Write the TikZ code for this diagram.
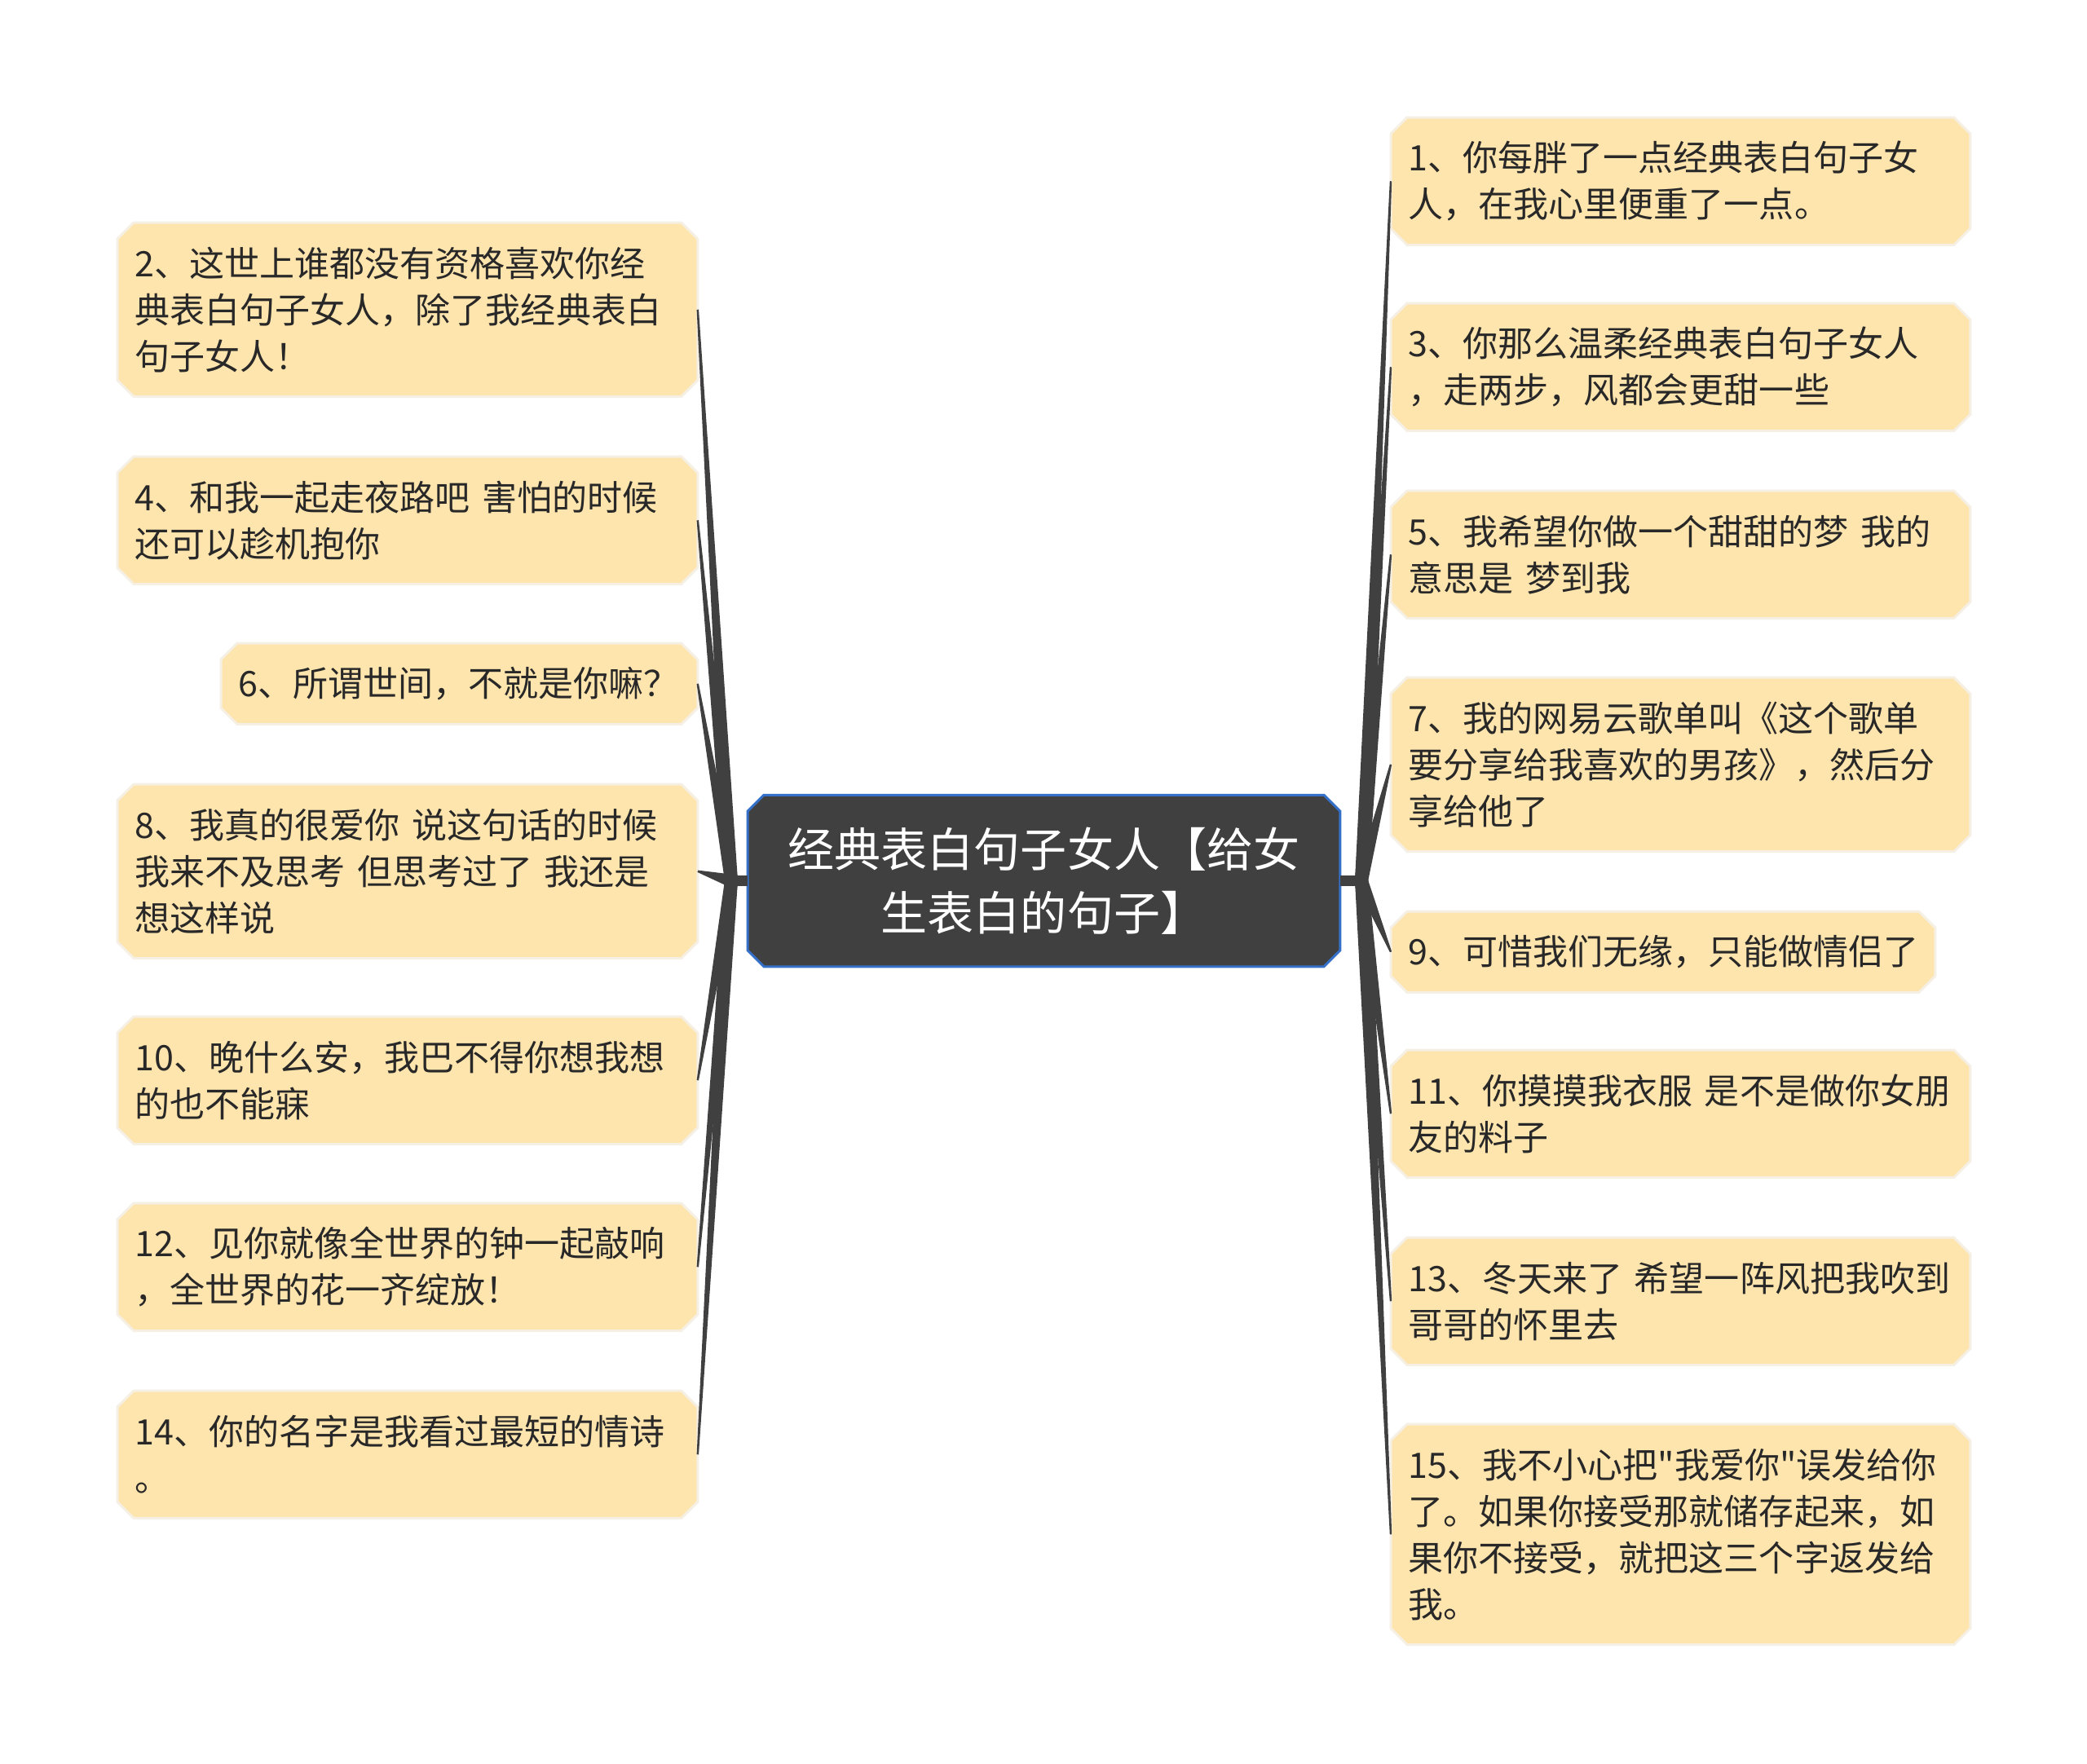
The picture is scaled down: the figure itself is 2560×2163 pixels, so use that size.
\documentclass[tikz,border=0pt]{standalone}
\usepackage{fontspec}
\newfontfamily\cjkfont{Noto Sans CJK SC}
\usetikzlibrary{calc}
\pgfdeclarelayer{back}
\pgfdeclarelayer{bg}
\pgfsetlayers{back,bg,main}
\definecolor{leaffill}{RGB}{254,228,173}
\definecolor{leafline}{RGB}{246,240,228}
\definecolor{rootfill}{RGB}{64,64,64}
\definecolor{rootline}{RGB}{52,112,200}
\definecolor{conncol}{RGB}{64,64,64}
\definecolor{leaftext}{RGB}{40,40,40}
\newcommand\octbox[2]{%
  \path[#2] ([xshift=0.2cm]#1.north west) -- ([xshift=-0.2cm]#1.north east)
    -- ([yshift=-0.2cm]#1.north east) -- ([yshift=0.2cm]#1.south east)
    -- ([xshift=-0.2cm]#1.south east) -- ([xshift=0.2cm]#1.south west)
    -- ([yshift=0.2cm]#1.south west) -- ([yshift=-0.2cm]#1.north west) -- cycle;}
\newcommand\taper[2]{%
  \fill[conncol] ($(#1)!0.08cm!90:(#2)$) -- ($(#2)!0.012cm!-90:(#1)$)
    -- ($(#2)!0.012cm!90:(#1)$) -- ($(#1)!0.08cm!-90:(#2)$) -- cycle;}
\tikzset{
  leaf/.style={anchor=north west, inner xsep=0.21cm, inner ysep=0pt, align=left,
    text=leaftext, font=\cjkfont\fontsize{0.43cm}{0.57cm}\selectfont},
  lw/.style={text width=6.68cm},
  rw/.style={text width=6.67cm},
  h1/.style={minimum height=0.98cm},
  h2/.style={minimum height=1.55cm},
  h3/.style={minimum height=2.12cm},
  h4/.style={minimum height=2.69cm},
  rootnode/.style={minimum width=7.25cm, minimum height=2.09cm, inner sep=0pt,
    align=center, text=white, font=\cjkfont\fontsize{0.57cm}{0.78cm}\selectfont},
  leafshape/.style={fill=leaffill, draw=leafline, line width=0.03cm},
  rootshape/.style={fill=rootfill, draw=rootline, line width=0.03cm},
}
\begin{document}
\begin{tikzpicture}[x=0.01cm, y=-0.01cm]
\begin{pgfonlayer}{back}
\fill[white] (0,0) rectangle (2560,2163);
\end{pgfonlayer}
\useasboundingbox (0,0) rectangle (2560,2163);

\node[rootnode] (c) at (1280.5,1080.5) {经典表白句子女人【给女\\生表白的句子】};

% left leaves
\node[leaf, lw, h3] (n2) at (144,273) {2、这世上谁都没有资格喜欢你经\\典表白句子女人，除了我经典表白\\句子女人！};
\node[leaf, lw, h2] (n4) at (144,560) {4、和我一起走夜路吧~害怕的时候\\还可以趁机抱你};
\node[leaf, text width=5.41cm, h1] (n6) at (271,789) {6、所谓世间，不就是你嘛？};
\node[leaf, lw, h3] (n8) at (144,962) {8、我真的很爱你~说这句话的时候\\我来不及思考~但思考过了~我还是\\想这样说};
\node[leaf, lw, h2] (n10) at (144,1247) {10、晚什么安，我巴不得你想我想\\的也不能寐};
\node[leaf, lw, h2] (n12) at (144,1476) {12、见你就像全世界的钟一起敲响\\，全世界的花一齐绽放！};
\node[leaf, lw, h2] (n14) at (144,1706) {14、你的名字是我看过最短的情诗\\。};

% right leaves
\node[leaf, rw, h2] (n1) at (1706,144) {1、你每胖了一点经典表白句子女\\人，在我心里便重了一点。};
\node[leaf, rw, h2] (n3) at (1706,372) {3、你那么温柔经典表白句子女人\\，走两步，风都会更甜一些};
\node[leaf, rw, h2] (n5) at (1706,602) {5、我希望你做一个甜甜的梦~我的\\意思是~梦到我};
\node[leaf, rw, h3] (n7) at (1706,831) {7、我的网易云歌单叫《这个歌单\\要分享给我喜欢的男孩》，然后分\\享给他了};
\node[leaf, text width=6.24cm, h1] (n9) at (1706,1118) {9、可惜我们无缘，只能做情侣了};
\node[leaf, rw, h2] (n11) at (1706,1288) {11、你摸摸我衣服~是不是做你女朋\\友的料子};
\node[leaf, rw, h2] (n13) at (1706,1518) {13、冬天来了~希望一阵风把我吹到\\哥哥的怀里去};
\node[leaf, rw, h4] (n15) at (1706,1747) {15、我不小心把"我爱你"误发给你\\了。如果你接受那就储存起来，如\\果你不接受，就把这三个字返发给\\我。};

\coordinate (JL) at (897,1080.5);
\coordinate (JR) at (1670,1080.5);

\begin{pgfonlayer}{bg}
  \octbox{c}{rootshape}
  \foreach \n in {n2,n4,n6,n8,n10,n12,n14,n1,n3,n5,n7,n9,n11,n13,n15}{\octbox{\n}{leafshape}}
  \draw[conncol, line width=0.13cm] (JL) -- (c.west);
  \draw[conncol, line width=0.13cm] (c.east) -- (JR);
  \foreach \n in {n2,n4,n6,n8,n10,n12,n14}{\taper{JL}{\n.east}}
  \foreach \n in {n1,n3,n5,n7,n9,n11,n13,n15}{\taper{JR}{\n.west}}
\end{pgfonlayer}
\end{tikzpicture}
\end{document}
